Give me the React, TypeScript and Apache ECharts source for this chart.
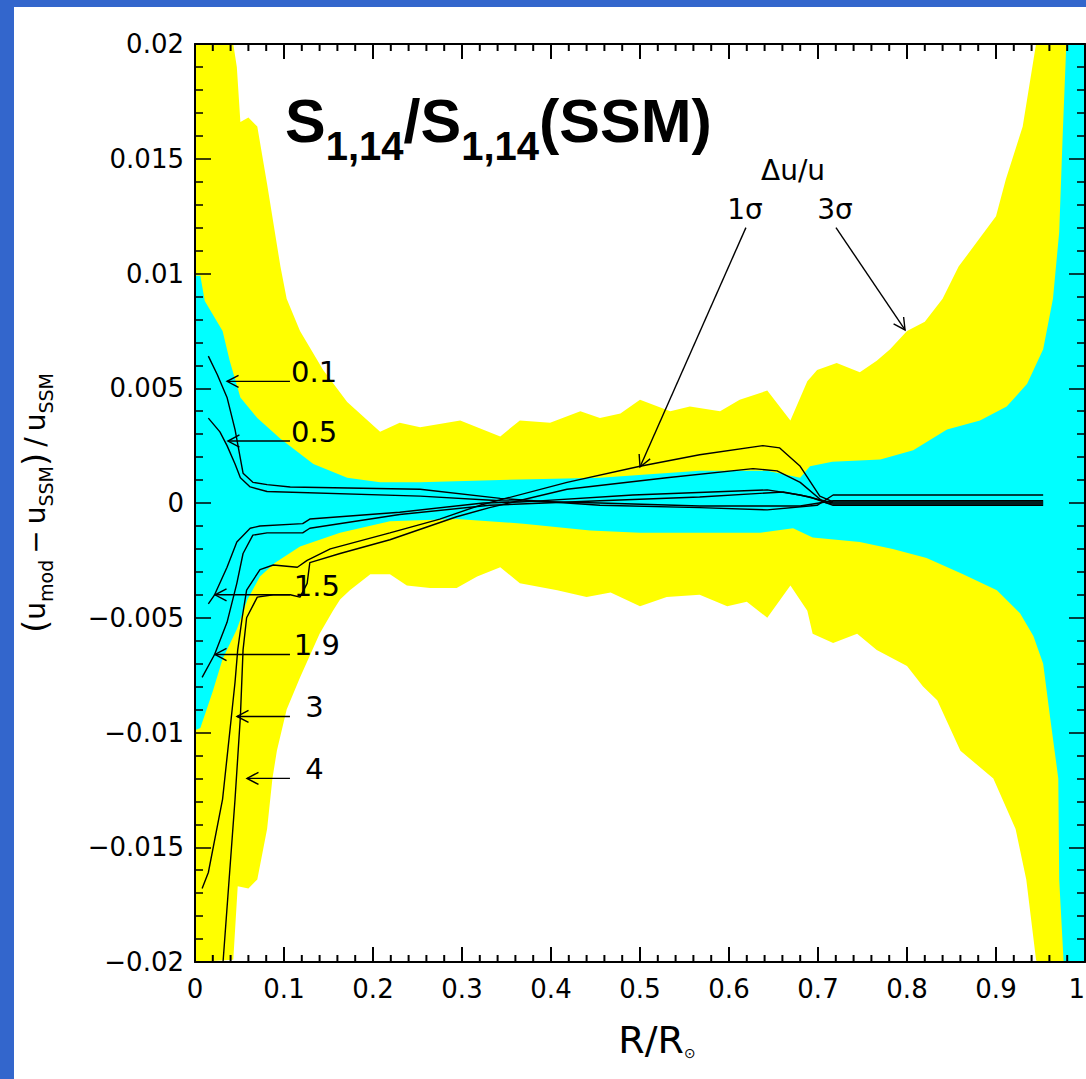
import React, { useEffect, useRef } from "react";
import * as echarts from "echarts";

// ---------- axis ticks ----------
const xTicks = [0, 0.1, 0.2, 0.3, 0.4, 0.5, 0.6, 0.7, 0.8, 0.9, 1];
const xTickLabels = ["0", "0.1", "0.2", "0.3", "0.4", "0.5", "0.6", "0.7", "0.8", "0.9", "1"];
const xMinorPerMajor = 5;
const yTicks = [-0.02, -0.015, -0.01, -0.005, 0, 0.005, 0.01, 0.015, 0.02];
const yTickLabels = ["\u22120.02", "\u22120.015", "\u22120.01", "\u22120.005", "0", "0.005", "0.01", "0.015", "0.02"];

// ---------- 3 sigma band (yellow) ----------
const band3Upper: number[][] = [
  [0.0, 0.02], [0.043, 0.02], [0.047, 0.019], [0.051, 0.0166], [0.06, 0.0168], [0.07, 0.0164],
  [0.081, 0.0139], [0.096, 0.0103], [0.103, 0.0089], [0.118, 0.0075], [0.144, 0.0058], [0.171, 0.0044],
  [0.208, 0.0031], [0.23, 0.0035], [0.253, 0.0033], [0.298, 0.0036], [0.343, 0.0029], [0.365, 0.0036],
  [0.399, 0.0035], [0.433, 0.004], [0.455, 0.0037], [0.478, 0.0039], [0.5, 0.0045], [0.534, 0.004],
  [0.556, 0.0042], [0.59, 0.004], [0.612, 0.0045], [0.643, 0.0049], [0.669, 0.0036], [0.688, 0.0053],
  [0.699, 0.0058], [0.721, 0.0061], [0.747, 0.0057], [0.766, 0.0062], [0.781, 0.0067], [0.8, 0.0075],
  [0.82, 0.0079], [0.84, 0.0089], [0.858, 0.0103], [0.881, 0.0115], [0.9, 0.0125], [0.911, 0.0141],
  [0.93, 0.0164], [0.945, 0.02],
];
const band3Lower: number[][] = [
  [0.0, -0.02], [0.043, -0.0199], [0.048, -0.0167], [0.06, -0.0168], [0.07, -0.0164], [0.081, -0.0142],
  [0.087, -0.012], [0.092, -0.0108], [0.103, -0.009], [0.118, -0.0076], [0.14, -0.0057], [0.155, -0.0047],
  [0.163, -0.0042], [0.174, -0.0038], [0.197, -0.0031], [0.219, -0.0031], [0.238, -0.0036], [0.264, -0.0037],
  [0.294, -0.0037], [0.317, -0.0032], [0.343, -0.0028], [0.365, -0.0035], [0.407, -0.0038], [0.44, -0.0041],
  [0.467, -0.0039], [0.5, -0.0045], [0.53, -0.0041], [0.567, -0.004], [0.598, -0.0045], [0.62, -0.0043],
  [0.643, -0.005], [0.669, -0.0036], [0.688, -0.0047], [0.694, -0.0057], [0.717, -0.0061], [0.744, -0.0057],
  [0.766, -0.0064], [0.8, -0.0071], [0.818, -0.008], [0.834, -0.0086], [0.86, -0.0108], [0.897, -0.012],
  [0.922, -0.0142], [0.934, -0.0164], [0.945, -0.0199], [0.946, -0.02],
];

// ---------- 1 sigma band (cyan) ----------
const band1Upper: number[][] = [
  [0.0, 0.0099], [0.006, 0.0099], [0.011, 0.0088], [0.031, 0.0075], [0.039, 0.0062], [0.051, 0.0046],
  [0.07, 0.0037], [0.096, 0.0028], [0.133, 0.0017], [0.171, 0.0011], [0.208, 0.0009], [0.253, 0.0009],
  [0.343, 0.001], [0.455, 0.0011], [0.567, 0.0014], [0.643, 0.0014], [0.68, 0.0011], [0.691, 0.0016],
  [0.716, 0.0018], [0.77, 0.0019], [0.807, 0.0023], [0.845, 0.0032], [0.882, 0.0036], [0.912, 0.0042],
  [0.935, 0.0052], [0.953, 0.0067], [0.964, 0.0089], [0.971, 0.0118], [0.975, 0.0161], [0.979, 0.02],
];
const band1Lower: number[][] = [
  [0.0, -0.0099], [0.006, -0.0098], [0.02, -0.0082], [0.031, -0.0068], [0.047, -0.0055], [0.059, -0.0042],
  [0.073, -0.0032], [0.09, -0.0026], [0.118, -0.0019], [0.163, -0.0013], [0.219, -0.0008], [0.294, -0.0007],
  [0.369, -0.0009], [0.444, -0.0012], [0.5, -0.0013], [0.567, -0.0013], [0.635, -0.0013], [0.672, -0.0011],
  [0.694, -0.0015], [0.747, -0.0017], [0.784, -0.002], [0.822, -0.0024], [0.863, -0.0031], [0.901, -0.0038],
  [0.927, -0.0048], [0.942, -0.0058], [0.953, -0.007], [0.961, -0.0094], [0.97, -0.012], [0.971, -0.0164],
  [0.976, -0.02],
];

// ---------- model curves (S1,14 factor) ----------
const curve01: number[][] = [
  [0.015, 0.0064], [0.025, 0.0056], [0.036, 0.0046], [0.045, 0.0032], [0.054, 0.0013], [0.065, 0.0009],
  [0.081, 0.0008], [0.107, 0.0007], [0.253, 0.0006], [0.343, 0.0002], [0.455, -0.0001], [0.567, -0.0002],
  [0.643, -0.0003], [0.699, -0.0001], [0.717, 0.00035], [0.953, 0.00035],
];
const curve05: number[][] = [
  [0.015, 0.0037], [0.028, 0.0031], [0.036, 0.0025], [0.045, 0.0017], [0.051, 0.0011], [0.062, 0.0007],
  [0.081, 0.0005], [0.253, 0.0003], [0.343, 0.0001], [0.455, 0.0], [0.567, -0.00013], [0.68, -0.00013],
  [0.717, 0.0001], [0.953, 0.0001],
];
const curve15: number[][] = [
  [0.015, -0.0044], [0.022, -0.004], [0.036, -0.0028], [0.047, -0.0017], [0.062, -0.0011], [0.073, -0.001],
  [0.121, -0.0009], [0.129, -0.0007], [0.23, -0.0004], [0.324, 0.0], [0.365, 0.00004], [0.492, 0.00035],
  [0.643, 0.00057], [0.68, 0.00035], [0.717, 0.0], [0.953, 0.0],
];
const curve19: number[][] = [
  [0.008, -0.0076], [0.022, -0.0066], [0.036, -0.0052], [0.047, -0.0035], [0.054, -0.0022], [0.065, -0.0014],
  [0.081, -0.0013], [0.121, -0.0013], [0.129, -0.0011], [0.23, -0.0005], [0.331, -0.0001], [0.455, 0.0001],
  [0.567, 0.00026], [0.661, 0.00048], [0.691, 0.00026], [0.717, -0.0001], [0.953, -0.0001],
];
const curve3: number[][] = [
  [0.008, -0.0168], [0.015, -0.0161], [0.031, -0.0129], [0.039, -0.01], [0.045, -0.0078], [0.048, -0.0064],
  [0.053, -0.005], [0.058, -0.0038], [0.073, -0.0029], [0.088, -0.0027], [0.115, -0.0028], [0.126, -0.0025],
  [0.152, -0.002], [0.219, -0.0013], [0.275, -0.0007], [0.32, -0.0001], [0.418, 0.0009], [0.5, 0.0016],
  [0.567, 0.0021], [0.638, 0.0025], [0.657, 0.0024], [0.68, 0.0016], [0.702, 0.0003], [0.717, 0.00005],
  [0.953, 0.00005],
];
const curve4: number[][] = [
  [0.0315, -0.02], [0.045, -0.0129], [0.051, -0.0093], [0.054, -0.0064], [0.058, -0.005], [0.07, -0.0041],
  [0.088, -0.004], [0.107, -0.004], [0.118, -0.0041], [0.126, -0.0035], [0.129, -0.0026], [0.163, -0.0022],
  [0.219, -0.0016], [0.294, -0.0006], [0.331, -0.0002], [0.418, 0.0006], [0.53, 0.0011], [0.627, 0.0015],
  [0.654, 0.0014], [0.68, 0.0009], [0.706, 0.00004], [0.717, -0.00005], [0.953, -0.00005],
];
const curves = [curve01, curve05, curve15, curve19, curve3, curve4];

// ---------- annotations ----------
const curveLabels = ["0.1", "0.5", "1.5", "1.9", "3", "4"];
const curveLabelPos: number[][] = [
  [0.108, 0.0057], [0.108, 0.0031], [0.111, -0.0036], [0.111, -0.0062], [0.124, -0.0089], [0.124, -0.0116],
];
const curveArrows: number[][] = [
  [0.1067, 0.0053, 0.036, 0.0053],
  [0.1067, 0.0027, 0.037, 0.0027],
  [0.1067, -0.004, 0.0225, -0.004],
  [0.1067, -0.0066, 0.0225, -0.0066],
  [0.1067, -0.0093, 0.0472, -0.0093],
  [0.1067, -0.012, 0.0584, -0.012],
];
const sigmaLabels = ["\u0394u/u", "1\u03c3", "3\u03c3"];
const sigmaLabelPos: number[][] = [[0.672, 0.0145], [0.618, 0.0128], [0.719, 0.0128]];
const sigmaArrows: number[][] = [
  [0.619, 0.012, 0.5, 0.00157],
  [0.7202, 0.012, 0.7978, 0.00754],
];

const FONT = "DejaVu Sans";

function xTickValues(): { x: number; major: boolean }[] {
  const out: { x: number; major: boolean }[] = [];
  for (let i = 0; i < xTicks.length; i++) {
    out.push({ x: xTicks[i], major: true });
    if (i < xTicks.length - 1) {
      for (let k = 1; k < xMinorPerMajor; k++) {
        out.push({ x: xTicks[i] + ((xTicks[i + 1] - xTicks[i]) * k) / xMinorPerMajor, major: false });
      }
    }
  }
  return out;
}

function polygonSeries(points: number[][], color: string, z: number) {
  return {
    type: "custom",
    z,
    silent: true,
    data: [[0.5, 0]],
    encode: { x: 0, y: 1 },
    renderItem: (_p: any, api: any) => ({
      type: "polygon",
      shape: { points: points.map((pt) => api.coord(pt)) },
      style: { fill: color },
    }),
  };
}

function arrowSeries(arrows: number[][]) {
  return {
    type: "custom",
    z: 6,
    silent: true,
    data: arrows,
    encode: { x: [0, 2], y: [1, 3] },
    renderItem: (_p: any, api: any) => {
      const p1 = api.coord([api.value(0), api.value(1)]);
      const p2 = api.coord([api.value(2), api.value(3)]);
      const ang = Math.atan2(p2[1] - p1[1], p2[0] - p1[0]);
      const L = 13;
      const A = Math.PI / 6.5;
      const h1 = [p2[0] - L * Math.cos(ang - A), p2[1] - L * Math.sin(ang - A)];
      const h2 = [p2[0] - L * Math.cos(ang + A), p2[1] - L * Math.sin(ang + A)];
      return {
        type: "group",
        children: [
          { type: "line", shape: { x1: p1[0], y1: p1[1], x2: p2[0], y2: p2[1] }, style: { stroke: "#000", lineWidth: 1.4 } },
          { type: "polyline", shape: { points: [h1, p2, h2] }, style: { stroke: "#000", fill: null, lineWidth: 1.4 } },
        ],
      };
    },
  };
}

function textSeries(labels: string[], pos: number[][], align: string, size: number) {
  return {
    type: "custom",
    z: 7,
    silent: true,
    data: pos,
    encode: { x: 0, y: 1 },
    renderItem: (params: any, api: any) => {
      const p = api.coord([api.value(0), api.value(1)]);
      return {
        type: "text",
        x: p[0],
        y: p[1],
        style: {
          text: labels[params.dataIndex],
          fill: "#000",
          fontSize: size,
          fontFamily: FONT,
          align,
          verticalAlign: "middle",
        },
      };
    },
  };
}

function labelFor(ticks: number[], labels: string[]) {
  return (v: number) => {
    const i = ticks.findIndex((t) => Math.abs(t - v) < 1e-9);
    return i >= 0 ? labels[i] : "";
  };
}

function mkAxisLine() {
  return { show: true, onZero: false, lineStyle: { color: "#000000", width: 2 } };
}
function mkTick(len: number) {
  return { show: true, inside: true, length: len, lineStyle: { color: "#000000", width: 1.5 } };
}
function mkMinor(len: number) {
  return { show: true, splitNumber: 5, length: len, lineStyle: { color: "#000000", width: 1.5 } };
}

const frameGraphics = [
  { type: "rect", z: 100, shape: { x: 0, y: 0, width: 14, height: 1079 }, style: { fill: "#3366cc" } },
  { type: "rect", z: 100, shape: { x: 0, y: 0, width: 1086, height: 7 }, style: { fill: "#3366cc" } },
];

export default function App() {
  const ref = useRef<HTMLDivElement>(null);
  useEffect(() => {
    if (!ref.current) return;
    const chart = echarts.init(ref.current, null, { renderer: "svg" });
    chart.setOption({
      animation: false,
      backgroundColor: "#ffffff",
      title: {
        text: "{a|S}{b|1,14}{a|/S}{b|1,14}{a|(SSM)}",
        left: 285,
        top: 76,
        padding: 0,
        textStyle: {
          fontSize: 61,
          fontWeight: "bold",
          fontFamily: "Liberation Sans",
          color: "#000",
          lineHeight: 90,
          rich: {
            a: { fontSize: 61, fontWeight: "bold", fontFamily: "Liberation Sans", color: "#000", lineHeight: 90 },
            b: { fontSize: 40, fontWeight: "bold", fontFamily: "Liberation Sans", color: "#000", lineHeight: 40, verticalAlign: "bottom" },
          },
        },
      },
      grid: { left: 195, right: 1, top: 44, bottom: 117, containLabel: false, outerBoundsMode: "none" },
      xAxis: [
        {
          type: "value",
          min: 0,
          max: 1,
          interval: 0.1,
          position: "bottom",
          z: 10,
          axisLine: mkAxisLine(),
          axisTick: { show: false },
          minorTick: { show: false },
          splitLine: { show: false },
          axisLabel: {
            fontSize: 26,
            fontFamily: FONT,
            color: "#000",
            margin: 14,
            alignMaxLabel: "right",
            formatter: labelFor(xTicks, xTickLabels),
          },
          name: "{m|R/R}{s|\u2299}",
          nameLocation: "middle",
          nameGap: 58,
          nameTextStyle: {
            fontFamily: FONT,
            fontSize: 38,
            color: "#000",
            lineHeight: 40,
            padding: [0, 0, 0, 34],
            rich: {
              m: { fontFamily: FONT, fontSize: 38, color: "#000", lineHeight: 40 },
              s: { fontFamily: FONT, fontSize: 14, color: "#000", lineHeight: 14, verticalAlign: "bottom" },
            },
          },
        },
        {
          type: "value",
          min: 0,
          max: 1,
          interval: 0.1,
          position: "top",
          z: 10,
          axisLine: mkAxisLine(),
          axisTick: { show: false },
          minorTick: { show: false },
          splitLine: { show: false },
          axisLabel: { show: false },
        },
      ],
      yAxis: [
        {
          type: "value",
          min: -0.02,
          max: 0.02,
          interval: 0.005,
          position: "left",
          z: 10,
          axisLine: mkAxisLine(),
          axisTick: mkTick(16),
          minorTick: mkMinor(8),
          splitLine: { show: false },
          axisLabel: { fontSize: 26, fontFamily: FONT, color: "#000", margin: 11, formatter: labelFor(yTicks, yTickLabels) },
          name: "{p|(}{u|u}{s|mod}{m|\u2212}{u|u}{s|SSM}{p|)}{m|/}{u|u}{s|SSM}",
          nameLocation: "middle",
          nameGap: 140,
          nameRotate: 90,
          nameTextStyle: {
            fontFamily: FONT,
            fontSize: 28,
            color: "#000",
            lineHeight: 40,
            rich: {
              p: { fontFamily: FONT, fontSize: 34, color: "#000", lineHeight: 40 },
              u: { fontFamily: FONT, fontSize: 28, color: "#000", lineHeight: 40 },
              m: { fontFamily: FONT, fontSize: 28, color: "#000", lineHeight: 40, padding: [0, 6] },
              s: { fontFamily: FONT, fontSize: 19, color: "#000", lineHeight: 20, verticalAlign: "bottom" },
            },
          },
        },
        {
          type: "value",
          min: -0.02,
          max: 0.02,
          interval: 0.005,
          position: "right",
          z: 10,
          axisLine: mkAxisLine(),
          axisTick: mkTick(16),
          minorTick: mkMinor(8),
          splitLine: { show: false },
          axisLabel: { show: false },
        },
      ],
      graphic: frameGraphics,
      series: [
        polygonSeries([...band3Upper, [1, 0.02], [1, -0.02], ...band3Lower.slice().reverse()], "#ffff00", 1),
        polygonSeries([...band1Upper, [1, 0.02], [1, -0.02], ...band1Lower.slice().reverse()], "#00ffff", 2),
        ...curves.map((c) => ({
          type: "line",
          data: c,
          z: 5,
          silent: true,
          showSymbol: false,
          symbol: "none",
          clip: true,
          lineStyle: { color: "#000", width: 1.4 },
        })),
        arrowSeries([...curveArrows, ...sigmaArrows]),
        textSeries(curveLabels, curveLabelPos, "left", 29),
        textSeries(sigmaLabels, sigmaLabelPos, "center", 28),
      ],
    });

    // inward x ticks on the bottom and top frame edges, positioned through the axis scales
    const yMin = yTicks[0];
    const yMax = yTicks[yTicks.length - 1];
    const tickEls: any[] = [];
    xTickValues().forEach((t) => {
      const len = t.major ? 15 : 7;
      const b = chart.convertToPixel({ xAxisIndex: 0, yAxisIndex: 0 }, [t.x, yMin]) as number[];
      const tp = chart.convertToPixel({ xAxisIndex: 0, yAxisIndex: 0 }, [t.x, yMax]) as number[];
      if (b && tp) {
        tickEls.push({ type: "rect", z: 60, silent: true, shape: { x: b[0] - 1, y: b[1] - len, width: 2, height: len }, style: { fill: "#000000" } });
        tickEls.push({ type: "rect", z: 60, silent: true, shape: { x: tp[0] - 1, y: tp[1], width: 2, height: len }, style: { fill: "#000000" } });
      }
    });
    chart.setOption({ graphic: [...frameGraphics, ...tickEls] });

    return () => chart.dispose();
  }, []);
  return (
    <div
      ref={ref}
      style={{ position: "fixed", left: 0, top: 0, width: 1086, height: 1079, background: "#fff" }}
    />
  );
}
